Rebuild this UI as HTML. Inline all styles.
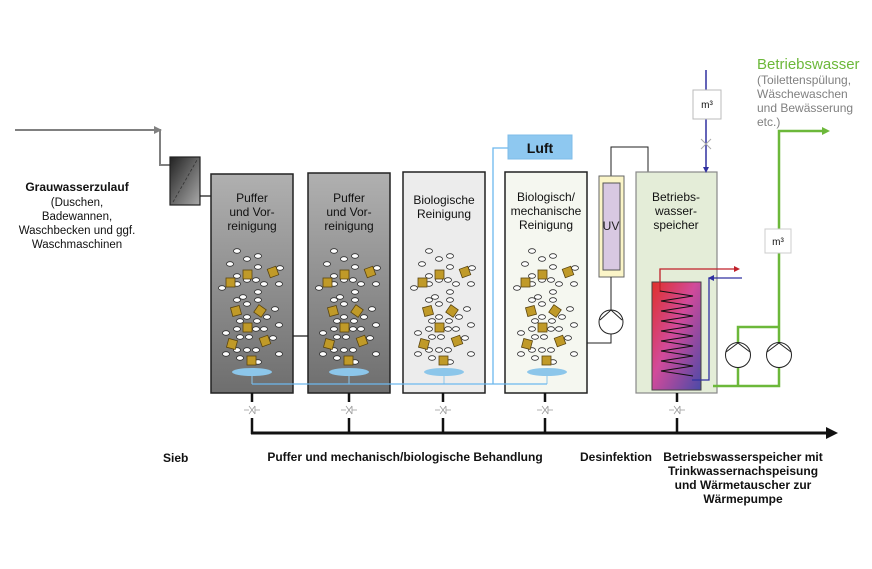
<!DOCTYPE html>
<html><head><meta charset="utf-8"><style>
html,body{margin:0;padding:0;background:#fff;}
svg{display:block;font-family:"Liberation Sans",Arial,sans-serif;}
</style></head><body>
<svg width="872" height="569" viewBox="0 0 872 569" xmlns="http://www.w3.org/2000/svg">
<defs>
<linearGradient id="gt" x1="0" y1="0" x2="0" y2="1"><stop offset="0" stop-color="#b0b0b0"/><stop offset="1" stop-color="#6e6e6e"/></linearGradient>
<linearGradient id="gs" x1="0" y1="0" x2="1" y2="1"><stop offset="0" stop-color="#222"/><stop offset="1" stop-color="#aaa"/></linearGradient>
<linearGradient id="gh" x1="0" y1="0" x2="1" y2="1"><stop offset="0" stop-color="#e0302a"/><stop offset="0.45" stop-color="#d24a9a"/><stop offset="1" stop-color="#4a4aa8"/></linearGradient>
<g id="bub" fill="#fff" stroke="#333" stroke-width="0.8">
<ellipse cx="26" cy="251" rx="3.5" ry="2.3"/><ellipse cx="36" cy="259" rx="3.5" ry="2.3"/><ellipse cx="47" cy="256" rx="3.5" ry="2.3"/>
<ellipse cx="19" cy="264" rx="3.5" ry="2.3"/><ellipse cx="47" cy="267" rx="3.5" ry="2.3"/><ellipse cx="69" cy="268" rx="3.5" ry="2.3"/>
<ellipse cx="26" cy="276" rx="3.5" ry="2.3"/><ellipse cx="36" cy="280" rx="3.5" ry="2.3"/><ellipse cx="45" cy="280" rx="3.5" ry="2.3"/>
<ellipse cx="11" cy="288" rx="3.5" ry="2.3"/><ellipse cx="26" cy="284" rx="3.5" ry="2.3"/><ellipse cx="53" cy="284" rx="3.5" ry="2.3"/>
<ellipse cx="68" cy="284" rx="3.5" ry="2.3"/><ellipse cx="32" cy="297" rx="3.5" ry="2.3"/><ellipse cx="47" cy="292" rx="3.5" ry="2.3"/>
<ellipse cx="26" cy="300" rx="3.5" ry="2.3"/><ellipse cx="36" cy="304" rx="3.5" ry="2.3"/><ellipse cx="47" cy="300" rx="3.5" ry="2.3"/>
<ellipse cx="64" cy="309" rx="3.5" ry="2.3"/><ellipse cx="29" cy="321" rx="3.5" ry="2.3"/><ellipse cx="36" cy="317" rx="3.5" ry="2.3"/>
<ellipse cx="56" cy="317" rx="3.5" ry="2.3"/><ellipse cx="46" cy="321" rx="3.5" ry="2.3"/><ellipse cx="68" cy="325" rx="3.5" ry="2.3"/>
<ellipse cx="26" cy="329" rx="3.5" ry="2.3"/><ellipse cx="45" cy="329" rx="3.5" ry="2.3"/><ellipse cx="53" cy="329" rx="3.5" ry="2.3"/>
<ellipse cx="15" cy="333" rx="3.5" ry="2.3"/><ellipse cx="29" cy="337" rx="3.5" ry="2.3"/><ellipse cx="38" cy="337" rx="3.5" ry="2.3"/>
<ellipse cx="62" cy="338" rx="3.5" ry="2.3"/><ellipse cx="26" cy="350" rx="3.5" ry="2.3"/><ellipse cx="36" cy="350" rx="3.5" ry="2.3"/>
<ellipse cx="45" cy="350" rx="3.5" ry="2.3"/><ellipse cx="15" cy="354" rx="3.5" ry="2.3"/><ellipse cx="68" cy="354" rx="3.5" ry="2.3"/>
<ellipse cx="29" cy="358" rx="3.5" ry="2.3"/><ellipse cx="47" cy="362" rx="3.5" ry="2.3"/>
</g>
<g id="sq" fill="#c09a28" stroke="#5a4510" stroke-width="0.8">
<rect x="32" y="270" width="9" height="9"/><rect x="15" y="278" width="9" height="9"/>
<rect x="57.5" y="267.5" width="9" height="9" transform="rotate(-20 62 272)"/>
<rect x="20.5" y="306.5" width="9" height="9" transform="rotate(-15 25 311)"/>
<rect x="44.5" y="306.5" width="9" height="9" transform="rotate(35 49 311)"/>
<rect x="32" y="323" width="9" height="9"/>
<rect x="16.5" y="339.5" width="9" height="9" transform="rotate(15 21 344)"/>
<rect x="49.5" y="336.5" width="9" height="9" transform="rotate(-20 54 341)"/>
<rect x="36" y="356" width="9" height="9"/>
</g>
<g id="diff"><ellipse cx="41" cy="372" rx="20" ry="4" fill="#8cc6ea"/><line x1="41" y1="376" x2="41" y2="384" stroke="#8cc6ea" stroke-width="1"/></g>
<g id="valve" stroke="#999" stroke-width="0.8" fill="none"><path d="M-8,410 L-3,410 M-3,406 L3,414 M3,406 L-3,414 M3,406 L3,414 M3,410 L8,410"/></g>
</defs>

<polyline points="15,130 158,130 160,130 160,165 170,165" fill="none" stroke="#808080" stroke-width="2"/>
<polygon points="154,126 162,130 154,134" fill="#808080"/>
<rect x="170" y="157" width="30" height="48" fill="url(#gs)" stroke="#222" stroke-width="1.2"/>
<line x1="173" y1="202" x2="197" y2="160" stroke="#333" stroke-width="0.8" stroke-dasharray="3,2"/>
<line x1="200" y1="196" x2="211" y2="196" stroke="#111" stroke-width="1.2"/>
<line x1="293" y1="336" x2="308" y2="336" stroke="#111" stroke-width="1.2"/>

<text x="77" y="191" font-size="12" font-weight="bold" text-anchor="middle" fill="#111">Grauwasserzulauf</text>
<text font-size="11.5" text-anchor="middle" fill="#111">
<tspan x="77" y="206">(Duschen,</tspan><tspan x="77" y="220">Badewannen,</tspan><tspan x="77" y="234">Waschbecken und ggf.</tspan><tspan x="77" y="248">Waschmaschinen</tspan></text>

<rect x="211" y="174" width="82" height="219" fill="url(#gt)" stroke="#222" stroke-width="1.5"/>
<rect x="308" y="173" width="82" height="220" fill="url(#gt)" stroke="#222" stroke-width="1.5"/>
<rect x="403" y="172" width="82" height="221" fill="#ececec" stroke="#222" stroke-width="1.5"/>
<rect x="505" y="172" width="82" height="221" fill="#f5f7f0" stroke="#222" stroke-width="1.5"/>

<g font-size="12" text-anchor="middle" fill="#111">
<text x="252" y="202">Puffer</text><text x="252" y="216">und Vor-</text><text x="252" y="230">reinigung</text>
<text x="349" y="202">Puffer</text><text x="349" y="216">und Vor-</text><text x="349" y="230">reinigung</text>
<text x="444" y="204">Biologische</text><text x="444" y="218">Reinigung</text>
<text x="546" y="201">Biologisch/</text><text x="546" y="215">mechanische</text><text x="546" y="229">Reinigung</text>
</g>

<use href="#bub" x="211"/><use href="#sq" x="211"/><use href="#diff" x="211"/>
<use href="#bub" x="308"/><use href="#sq" x="308"/><use href="#diff" x="308"/>
<use href="#bub" x="403"/><use href="#sq" x="403"/><use href="#diff" x="403"/>
<use href="#bub" x="506"/><use href="#sq" x="506"/><use href="#diff" x="506"/>

<polyline points="252,384 547,384" fill="none" stroke="#6cb8ee" stroke-width="1.3"/>
<polyline points="493,384 493,148 508,148" fill="none" stroke="#6cb8ee" stroke-width="1.3"/>
<rect x="508" y="135" width="64" height="24" fill="#8ec8f0" stroke="#7fbce8"/>
<text x="540" y="153" font-size="14" font-weight="bold" text-anchor="middle" fill="#111">Luft</text>

<polyline points="611,176 611,147 648,147 648,174" fill="none" stroke="#222" stroke-width="1"/>
<rect x="599" y="176" width="25" height="101" fill="#fbf5c8" stroke="#666" stroke-width="1"/>
<rect x="603" y="183" width="17" height="87" fill="#d8c8e2" stroke="#555" stroke-width="1"/>
<text x="611" y="230" font-size="12" text-anchor="middle" fill="#222">UV</text>
<line x1="611" y1="277" x2="611" y2="310" stroke="#222"/>
<polyline points="611,334 611,343 587,343" fill="none" stroke="#222"/>
<circle cx="611" cy="322" r="12" fill="#fff" stroke="#222"/>
<polyline points="600,320 611,310 622,320" fill="none" stroke="#222"/>

<rect x="636" y="172" width="81" height="221" fill="#e4edd8" stroke="#888" stroke-width="1.2"/>
<g font-size="12" text-anchor="middle" fill="#111"><text x="676" y="201">Betriebs-</text><text x="676" y="215">wasser-</text><text x="676" y="229">speicher</text></g>
<rect x="652" y="282" width="49" height="108" fill="url(#gh)" stroke="#444"/>
<polyline points="660,292 660,269 736,269" fill="none" stroke="#c0202a" stroke-width="1.3"/>
<polygon points="734,266 740,269 734,272" fill="#c0202a"/>
<polyline points="742,278 709,278 709,380 692,380" fill="none" stroke="#3030a0" stroke-width="1.3"/>
<polygon points="714,275 708,278 714,281" fill="#3030a0"/>
<polyline points="660,291 693,296 661,301 693,306 661,311 693,316 661,321 693,326 661,331 693,336 661,341 693,346 661,351 693,356 661,361 693,366 661,371 693,376" fill="none" stroke="#111" stroke-width="0.9"/>

<line x1="706" y1="70" x2="706" y2="170" stroke="#3030a0" stroke-width="1.5"/>
<polygon points="703,167 706,173 709,167" fill="#3030a0"/>
<rect x="693" y="90" width="28" height="29" fill="#fff" stroke="#bbb"/>
<text x="707" y="108" font-size="10" text-anchor="middle" fill="#111">m³</text>
<path d="M701,139 L711,149 M711,139 L701,149" stroke="#aaa" stroke-width="1"/>

<polyline points="713,386 779,386 779,131 824,131" fill="none" stroke="#6cb83a" stroke-width="2.5"/>
<polygon points="822,127 830,131 822,135" fill="#6cb83a"/>
<polyline points="738,386 738,327 779,327" fill="none" stroke="#6cb83a" stroke-width="2.5"/>
<rect x="765" y="229" width="26" height="24" fill="#fff" stroke="#ccc"/>
<text x="778" y="245" font-size="10" text-anchor="middle" fill="#111">m³</text>
<circle cx="738" cy="355" r="12.5" fill="#fff" stroke="#222"/>
<polyline points="726,352 738,343 750,352" fill="none" stroke="#222"/>
<circle cx="779" cy="355" r="12.5" fill="#fff" stroke="#222"/>
<polyline points="767,352 779,343 791,352" fill="none" stroke="#222"/>

<text x="757" y="69" font-size="15" fill="#6cb83a">Betriebswasser</text>
<g font-size="12" fill="#808080"><text x="757" y="84">(Toilettenspülung,</text><text x="757" y="98">Wäschewaschen</text><text x="757" y="112">und Bewässerung</text><text x="757" y="126">etc.)</text></g>

<g stroke="#111" stroke-width="2.5">
<line x1="252" y1="393" x2="252" y2="402"/><line x1="252" y1="418" x2="252" y2="434"/>
<line x1="349" y1="393" x2="349" y2="402"/><line x1="349" y1="418" x2="349" y2="434"/>
<line x1="443" y1="393" x2="443" y2="402"/><line x1="443" y1="418" x2="443" y2="434"/>
<line x1="545" y1="393" x2="545" y2="402"/><line x1="545" y1="418" x2="545" y2="434"/>
<line x1="677" y1="393" x2="677" y2="402"/><line x1="677" y1="418" x2="677" y2="434"/>
</g>
<use href="#valve" x="252"/><use href="#valve" x="349"/><use href="#valve" x="443"/><use href="#valve" x="545"/><use href="#valve" x="677"/>
<line x1="251" y1="433" x2="828" y2="433" stroke="#111" stroke-width="3"/>
<polygon points="826,427 838,433 826,439" fill="#111"/>

<g font-size="12" font-weight="bold" fill="#111">
<text x="163" y="462">Sieb</text>
<text x="405" y="461" text-anchor="middle">Puffer und mechanisch/biologische Behandlung</text>
<text x="616" y="461" text-anchor="middle">Desinfektion</text>
<g text-anchor="middle"><text x="743" y="461">Betriebswasserspeicher mit</text><text x="743" y="475">Trinkwassernachspeisung</text><text x="743" y="489">und Wärmetauscher zur</text><text x="743" y="503">Wärmepumpe</text></g>
</g>
</svg>
</body></html>
